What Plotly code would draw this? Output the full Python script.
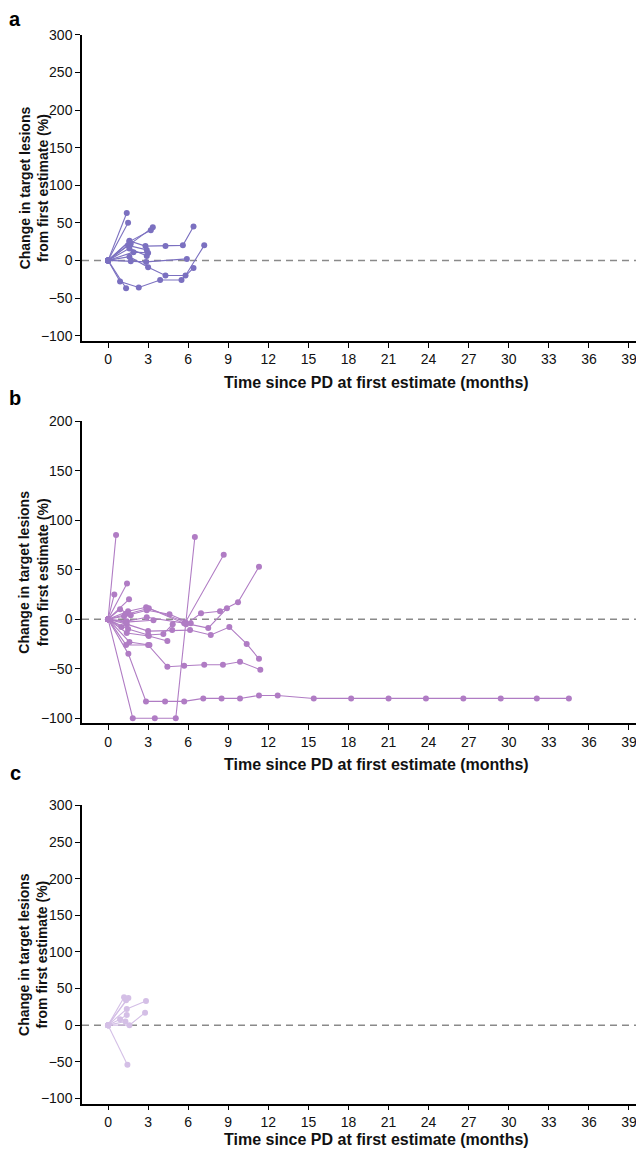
import plotly.graph_objects as go

# ---------------- data ----------------
a_months = [
    [0, 1.4], [0, 1.5], [0, 1.6, 3.2], [0, 1.7, 3.35],
    [0, 1.6, 2.8, 4.3, 5.6, 6.4], [0, 1.5, 2.9], [0, 1.9, 3.0], [0, 1.6, 2.9],
    [0, 1.7, 2.85, 5.9], [0, 1.6, 3.0, 4.3, 5.8, 7.2],
    [0, 0.9, 2.3, 3.9, 5.5, 6.4], [0, 1.35],
]
a_change = [
    [0, 63], [0, 50], [0, 25, 40], [0, 22, 44],
    [0, 26, 19, 19, 20, 45], [0, 20, 14], [0, 11, 10], [0, 16, 6],
    [0, -1, -2, 2], [0, 5, -9, -20, -20, 20],
    [0, -28, -36, -26, -26, -10], [0, -37],
]

b_months = [
    [0, 0.6], [0, 1.85, 3.5, 5.07, 6.5], [0, 1.42], [0, 0.47], [0, 1.57],
    [0, 1.5, 2.85, 5.8, 8.66],
    [0, 1.3, 3.05, 5.84, 6.96, 8.38, 9.73, 11.3],
    [0, 1.4, 2.9, 5.7, 7.5, 8.9],
    [0, 1.2, 2.9, 4.6, 6.19],
    [0, 1.4, 3.0, 4.8, 6.14, 7.69, 9.08, 10.38, 11.3],
    [0, 1.35, 3.0, 4.44, 5.7, 7.2, 8.6, 9.88, 11.4],
    [0, 1.52, 2.84, 4.27, 5.7, 7.13, 8.5, 9.88, 11.3, 12.7, 15.4, 18.2, 21.0,
     23.8, 26.6, 29.4, 32.1, 34.5],
    [0, 1.5, 3.0, 4.14, 4.84], [0, 1.4, 3.05, 4.44], [0, 1.3, 3.4],
    [0, 1.0], [0, 0.9, 1.7], [0, 1.6, 3.1],
]
b_change = [
    [0, 85], [0, -100, -100, -100, 83], [0, 36], [0, 25], [0, 20],
    [0, 8, 12, -3, 65],
    [0, 5, 11, -5, 6, 8, 17, 53],
    [0, -2, 2, -4, -9, 11],
    [0, 3, 9, 5, -4],
    [0, -5, -12, -11, -11, -16, -8, -25, -40],
    [0, -26, -26, -48, -47, -46, -46, -43, -51],
    [0, -35, -83, -83, -83, -80, -80, -80, -77, -77, -80, -80, -80,
     -80, -80, -80, -80, -80],
    [0, -10, -16, -15, -5], [0, -14, -17, -22], [0, -3, -1],
    [0, -8], [0, 10, 4], [0, -23, -26],
]

c_months = [
    [0, 1.2], [0, 1.52], [0, 1.35], [0, 1.4, 2.84], [0, 1.6, 2.77],
    [0, 0.9, 1.4], [0, 1.45], [0, 1.3],
]
c_change = [
    [0, 38], [0, 37], [0, 34], [0, 22, 33], [0, 0, 17],
    [0, 8, 14], [0, -54], [0, 5],
]

x_ticks = list(range(0, 40, 3))
panel_letters = ["a", "b", "c"]
y_title = "Change in target lesions<br>from first estimate (%)"
x_title = "Time since PD at first estimate (months)"

# ---------------- style / layout ----------------
# page body has an 8px margin, so figure pixel = picture pixel - 8
W, H = 644, 1152
L, R = 74, 11
PW = W - L - R
colors = ["#7b70c0", "#b07cc4", "#d4bfe6"]
panels = [
    dict(top=19, bottom=328, yr=[-107, 300], letter_y=3, xtitle_y=370),
    dict(top=409, bottom=714, yr=[-105, 200], letter_y=386, xtitle_y=756),
    dict(top=797, bottom=1098, yr=[-107, 300], letter_y=764, xtitle_y=1134),
]
data = [(a_months, a_change), (b_months, b_change), (c_months, c_change)]

FONT = "Liberation Sans, Arial, sans-serif"
TICKFONT = dict(family=FONT, size=14, color="#111")
YTITLEFONT = dict(family=FONT, size=14, color="#111")
XTITLEFONT = dict(family=FONT, size=16, color="#111")
fig = go.Figure()

for i, (p, (mx, my)) in enumerate(zip(panels, data)):
    n = i + 1
    xa = "x" if n == 1 else f"x{n}"
    ya = "y" if n == 1 else f"y{n}"
    for xs, ys in zip(mx, my):
        fig.add_trace(go.Scatter(
            x=xs, y=ys, mode="lines+markers", xaxis=xa, yaxis=ya,
            line=dict(color=colors[i], width=1.1),
            marker=dict(color=colors[i], size=6),
            showlegend=False, hoverinfo="skip"))
    dom = [1 - p["bottom"] / H, 1 - p["top"] / H]
    xkey = "xaxis" if n == 1 else f"xaxis{n}"
    ykey = "yaxis" if n == 1 else f"yaxis{n}"
    fig.layout[xkey] = dict(
        domain=[0, 1], range=[-1.95, 39.9], anchor=ya,
        tickmode="array", tickvals=x_ticks, ticktext=[str(t) for t in x_ticks],
        ticks="outside", ticklen=5, tickwidth=1.3, tickcolor="black",
        showline=True, linecolor="black", linewidth=1.5,
        showgrid=False, zeroline=False, tickfont=TICKFONT,
    )
    fig.layout[ykey] = dict(
        domain=dom, range=p["yr"], anchor=xa,
        tickmode="linear", tick0=-100, dtick=50,
        ticks="outside", ticklen=5, tickwidth=1.3, tickcolor="black",
        showline=True, linecolor="black", linewidth=1.5,
        showgrid=False, zeroline=False, tickfont=TICKFONT,
    )
    fig.add_shape(type="line", xref=f"{xa} domain", yref=ya,
                  x0=0, x1=1, y0=0, y1=0, layer="below",
                  line=dict(color="#8a8a8a", width=1.5, dash="7px,5px"))
    # y-axis title (two lines, rotated)
    fig.add_annotation(text=f"<b>{y_title}</b>", xref="paper", yref="paper",
                       x=(25.5 - L) / PW, y=1 - (p["top"] + p["bottom"]) / 2 / H,
                       xanchor="center", yanchor="middle", textangle=-90,
                       showarrow=False, font=YTITLEFONT)
    # x-axis title
    fig.add_annotation(text=f"<b>{x_title}</b>", xref="paper", yref="paper",
                       x=(368 - L) / PW, y=1 - p["xtitle_y"] / H,
                       xanchor="center", yanchor="middle",
                       showarrow=False, font=XTITLEFONT)
    # panel letter
    fig.add_annotation(text=f"<b>{panel_letters[i]}</b>", xref="paper", yref="paper",
                       x=(7 - L) / PW, y=1 - p["letter_y"] / H,
                       xanchor="center", yanchor="middle", showarrow=False,
                       font=dict(family=FONT, size=20, color="black"))

fig.update_layout(
    width=W, height=H, margin=dict(l=L, r=R, t=0, b=0),
    paper_bgcolor="white", plot_bgcolor="white",
)
fig.write_html("out.html")
